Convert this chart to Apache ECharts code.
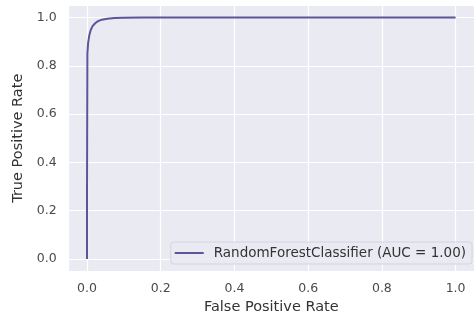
<!DOCTYPE html>
<html>
<head>
<meta charset="utf-8">
<script src="https://cdn.jsdelivr.net/npm/echarts@6/dist/echarts.min.js"></script>
<style>
  html,body{margin:0;padding:0;background:#fff;}
  #chart{width:474px;height:320px;}
</style>
</head>
<body>
<div id="chart"></div>
<script>
// roc curve points
var fpr=[0,0,0.001,0.003,0.006,0.01,0.015,0.022,0.03,0.04,0.055,0.075,0.1,0.15,0.25,1];
var tpr=[0,0.3,0.85,0.895,0.925,0.948,0.964,0.976,0.985,0.991,0.995,0.998,0.999,1,1,1];
var seriesName='RandomForestClassifier (AUC = 1.00)';
var lineColor='#5d5598';

var points=[];
for(var i=0;i<fpr.length;i++){
    points.push([fpr[i],tpr[i]]);
}

function tickFmt(v){
    //hide the padded edges
    if(v<0||v>1.0001) return '';
    return v.toFixed(1);
}

var myChart=echarts.init(document.getElementById('chart'));
var font='DejaVu Sans';
var option={
    animation:false,
    textStyle:{fontFamily:font},
    grid:{left:68.6,right:-6.4,top:5.4,bottom:47.4,show:true,backgroundColor:'#eaeaf2',borderWidth:0},
    xAxis:{
        type:'value',min:-0.05,max:1.05,splitNumber:5,
        name:'False Positive Rate',nameLocation:'middle',nameGap:27,
        nameTextStyle:{fontSize:14.5,color:'#333',fontFamily:font},
        axisLine:{show:false},axisTick:{show:false},
        axisLabel:{formatter:tickFmt,fontSize:12.5,color:'#4a4a4a',margin:11,fontFamily:font,showMinLabel:false,showMaxLabel:false},
        splitLine:{show:true,lineStyle:{color:'#ffffff',width:1.2}}
    },
    yAxis:{
        type:'value',min:-0.05,max:1.05,splitNumber:5,
        name:'True Positive Rate',nameLocation:'middle',nameGap:41,
        nameTextStyle:{fontSize:14.5,color:'#333',fontFamily:font},
        axisLine:{show:false},axisTick:{show:false},
        axisLabel:{formatter:tickFmt,fontSize:12.5,color:'#4a4a4a',margin:12,fontFamily:font,showMinLabel:false,showMaxLabel:false},
        splitLine:{show:true,lineStyle:{color:'#ffffff',width:1.2}}
    },
    legend:{
        data:[{name:seriesName,icon:'rect'}],
        right:2,top:242,
        itemWidth:29,itemHeight:2,
        padding:[4,6,4,4],
        backgroundColor:'rgba(234,234,242,0.85)',
        borderColor:'#d4d4dc',borderWidth:1,borderRadius:3,
        textStyle:{fontSize:13.5,color:'#333',fontFamily:font,padding:[0,0,0,5]}
    },
    series:[{
        name:seriesName,type:'line',data:points,
        showSymbol:false,smooth:false,
        lineStyle:{color:lineColor,width:2},
        itemStyle:{color:lineColor}
    }]
};
myChart.setOption(option);
</script>
</body>
</html>
